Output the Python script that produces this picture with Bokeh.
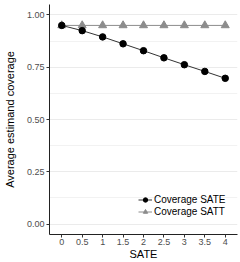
from bokeh.plotting import figure
from bokeh.models import FixedTicker, Range1d, Legend, LegendItem
from bokeh.embed import file_html
from bokeh.resources import INLINE

sate = [0, 0.5, 1, 1.5, 2, 2.5, 3, 3.5, 4]
sate_labels = ["0", "0.5", "1", "1.5", "2", "2.5", "3", "3.5", "4"]
coverage_sate = [0.95, 0.925, 0.895, 0.862, 0.829, 0.795, 0.762, 0.73, 0.697]
coverage_satt = [0.95, 0.95, 0.95, 0.95, 0.95, 0.95, 0.95, 0.95, 0.95]
y_ticks = [0.0, 0.25, 0.5, 0.75, 1.0]
y_labels = ["0.00", "0.25", "0.50", "0.75", "1.00"]
y_minor = [0.125, 0.375, 0.625, 0.875]

FONT = "Liberation Sans"

p = figure(width=240, height=262, output_backend="svg", toolbar_location=None,
           x_range=Range1d(-0.3, 4.3), y_range=Range1d(-0.05, 1.05),
           min_border_left=49, min_border_right=3, min_border_top=4, min_border_bottom=27)
p.outline_line_color = None
p.background_fill_color = "white"

l1 = p.line(sate, coverage_satt, line_color="#8c8c8c", line_width=1)
s1 = p.scatter(sate, coverage_satt, marker="triangle", size=8, fill_color="#8c8c8c", line_color="#8c8c8c")
l2 = p.line(sate, coverage_sate, line_color="#333333", line_width=1)
s2 = p.scatter(sate, coverage_sate, marker="circle", size=6.5, fill_color="black", line_color="black")

legend = Legend(items=[LegendItem(label="Coverage SATE", renderers=[l2, s2]),
                       LegendItem(label="Coverage SATT", renderers=[l1, s1])],
                location=(89, 17), background_fill_alpha=0, border_line_color=None,
                label_text_font=FONT, label_text_font_size="10px", label_text_color="black",
                glyph_width=14, glyph_height=11, spacing=1, padding=2, label_standoff=2,
                label_height=11)
p.add_layout(legend, "center")

p.xaxis.ticker = FixedTicker(ticks=sate)
p.xaxis.major_label_overrides = {float(v): l for v, l in zip(sate, sate_labels)}
p.yaxis.ticker = FixedTicker(ticks=y_ticks, minor_ticks=y_minor)
p.yaxis.major_label_overrides = {float(v): l for v, l in zip(y_ticks, y_labels)}

p.xaxis.axis_label = "SATE"
p.yaxis.axis_label = "Average estimand coverage"
for ax in (p.xaxis, p.yaxis):
    ax.axis_line_color = "#222222"
    ax.axis_line_width = 1
    ax.major_tick_line_color = "#333333"
    ax.major_tick_out = 3
    ax.major_tick_in = 0
    ax.minor_tick_line_color = None
    ax.major_label_text_font = FONT
    ax.major_label_text_font_size = "9px"
    ax.major_label_text_color = "#4d4d4d"
    ax.axis_label_text_font = FONT
    ax.axis_label_text_font_size = "11px"
    ax.axis_label_text_font_style = "normal"
    ax.axis_label_text_color = "black"
    ax.major_label_standoff = 1
    ax.axis_label_standoff = 0
p.yaxis.axis_label_standoff = 8

p.xgrid.grid_line_color = None
p.ygrid.grid_line_color = "#ebebeb"
p.ygrid.minor_grid_line_color = "#f2f2f2"

open("out.html", "w").write(file_html(p, INLINE))
